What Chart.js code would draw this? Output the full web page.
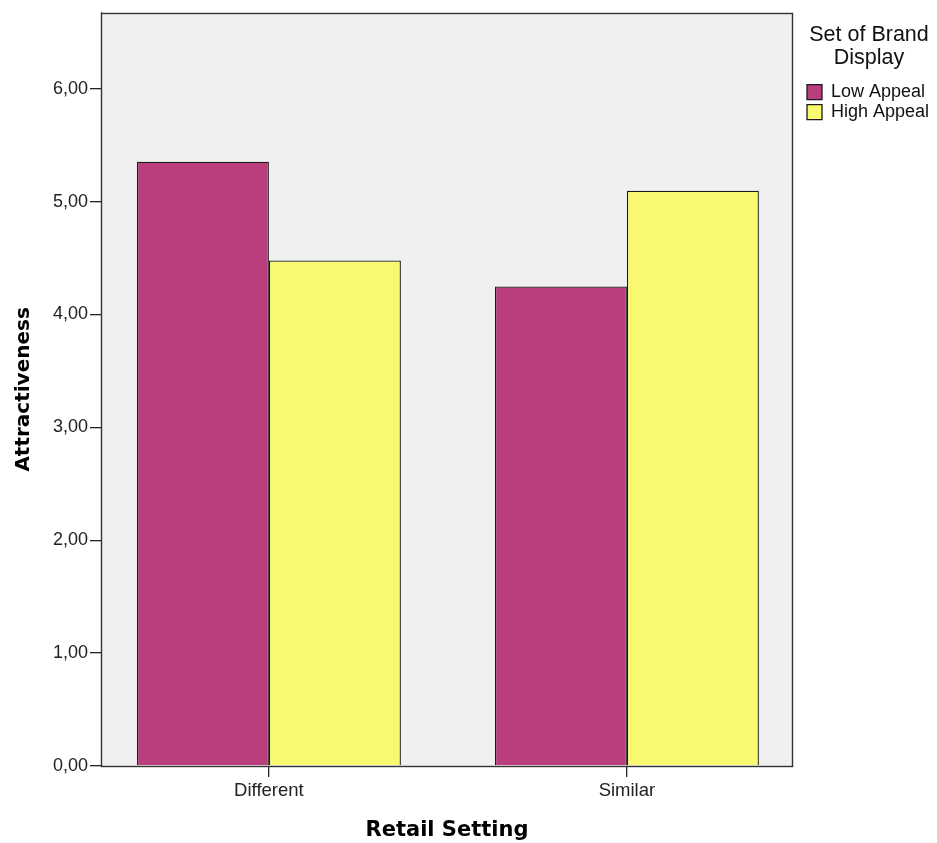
<!DOCTYPE html>
<html>
<head>
<meta charset="utf-8">
<script src="https://cdn.jsdelivr.net/npm/chart.js@4"></script>
<style>
  html, body { margin: 0; padding: 0; background: #ffffff; }
  #wrap { width: 937px; height: 843px; }
</style>
</head>
<body>
<div id="wrap"><canvas id="c" width="937" height="843"></canvas></div>
<script>
const categories = ['Different', 'Similar'];
const lowAppeal = [5.354, 4.248];
const highAppeal = [4.478, 5.097];
const seriesNames = ['Low Appeal', 'High Appeal'];
const yTicks = [0, 1, 2, 3, 4, 5, 6];

const frame = {
  id: 'frame',
  beforeLayout(chart) {
    const lg = chart.legend;
    if (lg && !lg._patched) {
      const f = lg.fit.bind(lg);
      lg.fit = function () { f(); this.width = 144; };
      lg._patched = true;
    }
  },
  afterLayout(chart) {
    const lg = chart.legend;
    if (lg) { lg.left = 805; lg.width = 128; lg.right = 933; }
  },
  beforeDraw(chart) {
    const a = chart.chartArea, ctx = chart.ctx;
    ctx.save();
    ctx.fillStyle = '#f0f0f0';
    ctx.fillRect(a.left, a.top, a.right - a.left, a.bottom - a.top);
    ctx.restore();
  },
  afterDatasetsDraw(chart) {
    const a = chart.chartArea, ctx = chart.ctx;
    ctx.save();
    ctx.strokeStyle = '#333';
    ctx.lineWidth = 1.4;
    ctx.strokeRect(Math.round(a.left) + 0.5, Math.round(a.top) + 0.5, Math.round(a.right - a.left) - 1, Math.round(a.bottom - a.top));
    ctx.restore();
  }
};

const toPts = vals => vals.map((v, i) => ({ x: i, y: v }));

new Chart(document.getElementById('c'), {
  type: 'bar',
  data: {
    datasets: [
      { label: seriesNames[0], data: toPts(lowAppeal), backgroundColor: '#ba3e7b', borderColor: '#1a1a1a', borderWidth: 1.3 },
      { label: seriesNames[1], data: toPts(highAppeal), backgroundColor: '#f9f871', borderColor: '#1a1a1a', borderWidth: 1.3 }
    ]
  },
  options: {
    responsive: false,
    animation: false,
    devicePixelRatio: 1,
    layout: { padding: { top: 12, left: 0, right: 0, bottom: 0 } },
    datasets: { bar: { categoryPercentage: 0.7374, barPercentage: 1.0 } },
    scales: {
      x: {
        type: 'linear',
        offset: false,
        min: -0.469,
        max: 1.464,
        afterBuildTicks(scale) { scale.ticks = categories.map((c, i) => ({ value: i })); },
        afterFit(scale) { scale.height = 77; },
        grid: { offset: false, drawOnChartArea: false, drawTicks: true, tickLength: 11, color: '#222', lineWidth: 1.3 },
        border: { display: true, color: '#333' },
        ticks: {
          padding: 3,
          color: '#222',
          font: { family: 'Liberation Sans', size: 18.5 },
          autoSkip: false,
          maxRotation: 0,
          callback: v => categories[v]
        },
        title: {
          display: true,
          text: 'Retail Setting',
          color: '#000',
          font: { family: 'DejaVu Sans', size: 21, weight: 'bold' },
          padding: { top: 10, bottom: 0 }
        }
      },
      y: {
        min: 0,
        max: 6.673,
        afterBuildTicks(scale) { scale.ticks = yTicks.map(v => ({ value: v })); },
        afterFit(scale) { scale.width = 101; },
        grid: { drawOnChartArea: false, drawTicks: true, tickLength: 11, color: '#222', lineWidth: 1.3 },
        border: { display: true, color: '#333' },
        ticks: {
          padding: 2,
          color: '#222',
          font: { family: 'Liberation Sans', size: 18 },
          callback: v => Number(v).toFixed(2).replace('.', ',')
        },
        title: {
          display: true,
          text: 'Attractiveness',
          color: '#000',
          font: { family: 'DejaVu Sans', size: 20, weight: 'bold' },
          padding: { top: 12, bottom: 0 }
        }
      }
    },
    plugins: {
      tooltip: { enabled: false },
      legend: {
        position: 'right',
        align: 'start',
        title: {
          display: true,
          text: ['Set of Brand', 'Display'],
          color: '#111',
          font: { family: 'Liberation Sans', size: 21.5, lineHeight: 1.08 },
          padding: { top: 12, bottom: 34 }
        },
        labels: {
          boxWidth: 15,
          boxHeight: 15,
          padding: 2,
          color: '#111',
          font: { family: 'Liberation Sans', size: 18 }
        }
      }
    }
  },
  plugins: [frame]
});
</script>
</body>
</html>
